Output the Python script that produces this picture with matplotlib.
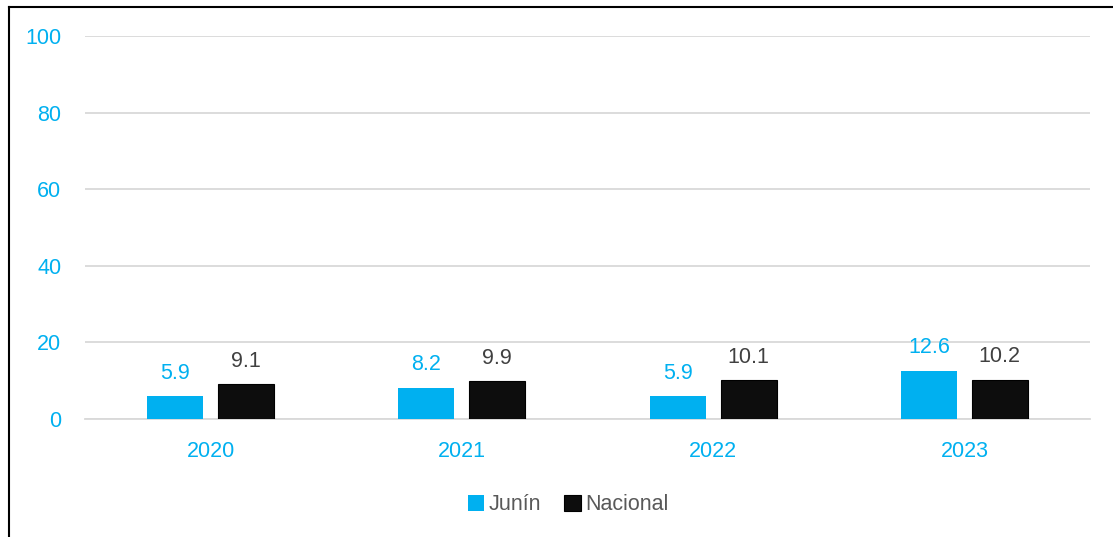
import matplotlib.pyplot as plt
import numpy as np

YEARS = ["2020", "2021", "2022", "2023"]
JUNIN = [5.9, 8.2, 5.9, 12.6]
NACIONAL = [9.1, 9.9, 10.1, 10.2]
Y_TICKS = [0, 20, 40, 60, 80, 100]

BLUE = "#00B0F0"
BLACK = "#0D0D0D"
GREY = "#595959"

plt.rcParams["font.family"] = ["Liberation Sans", "DejaVu Sans"]

fig = plt.figure(figsize=(11.13, 5.37), dpi=100)
ax = fig.add_axes([85 / 1113, 1 - 419 / 537, 1005 / 1113, 383 / 537])

x = np.arange(len(YEARS))
width = 0.223
offset = 0.141
bars_j = ax.bar(x - offset, JUNIN, width, color=BLUE, label="Junín", zorder=3)
bars_n = ax.bar(x + offset, NACIONAL, width, color=BLACK, edgecolor="#000000",
                linewidth=0.8, label="Nacional", zorder=3)

for bar, val in zip(bars_j, JUNIN):
    ax.annotate(f"{val:.1f}", (bar.get_x() + bar.get_width() / 2, val),
                xytext=(0, 9), textcoords="offset points", ha="center", va="bottom",
                color=BLUE, fontsize=15.5)
for bar, val in zip(bars_n, NACIONAL):
    ax.annotate(f"{val:.1f}", (bar.get_x() + bar.get_width() / 2, val),
                xytext=(0, 9), textcoords="offset points", ha="center", va="bottom",
                color="#404040", fontsize=15.5)

ax.set_xlim(-0.5, len(YEARS) - 0.5)
ax.set_ylim(0, 100)
ax.set_yticks(Y_TICKS)
ax.set_xticks(x)
ax.set_xticklabels(YEARS)
ax.tick_params(axis="both", length=0, labelsize=15.5, labelcolor=BLUE)
ax.tick_params(axis="y", pad=17)
ax.tick_params(axis="x", pad=16)
ax.grid(axis="y", color="#D9D9D9", linewidth=1.3, zorder=0)
for side in ["top", "right", "left"]:
    ax.spines[side].set_visible(False)
ax.spines["bottom"].set_color("#D9D9D9")
ax.spines["bottom"].set_linewidth(1.3)

leg = fig.legend(handles=[bars_j, bars_n], labels=["Junín", "Nacional"],
                 loc="center", bbox_to_anchor=(568 / 1113, 1 - 505 / 537), ncol=2,
                 frameon=False, fontsize=15.5, handlelength=0.75, handleheight=0.75,
                 handletextpad=0.2, columnspacing=1.1)
for t in leg.get_texts():
    t.set_color(GREY)

# border (left and top only)
fig.add_artist(plt.Line2D([8.5 / 1113, 8.5 / 1113], [0, 1 - 7 / 537],
                          color="black", linewidth=1.5, transform=fig.transFigure))
fig.add_artist(plt.Line2D([8.5 / 1113, 1], [1 - 7 / 537, 1 - 7 / 537],
                          color="black", linewidth=1.5, transform=fig.transFigure))

fig.savefig("out.png", dpi=100)
